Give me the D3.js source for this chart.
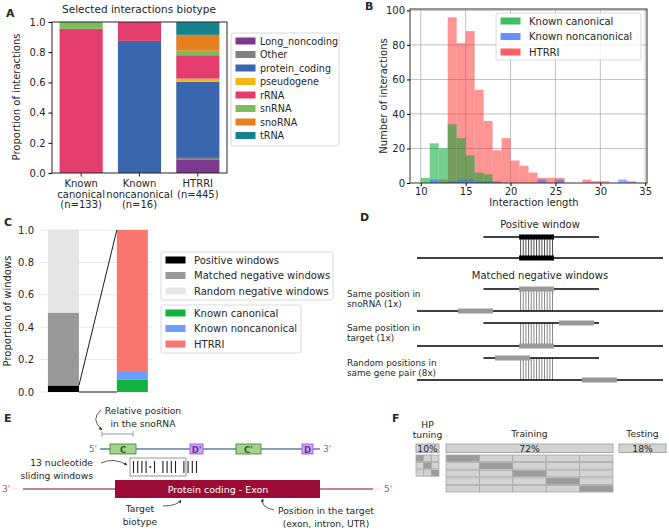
<!DOCTYPE html>
<html>
<head>
<meta charset="utf-8">
<script src="https://cdn.jsdelivr.net/npm/d3@7"></script>
<style>
  body { margin: 0; background: #fff; }
  text { font-family: "DejaVu Sans", sans-serif; fill: #262626; }
</style>
</head>
<body>
<svg id="fig" width="669" height="531"></svg>
<script>
/**************************
 * Data
 **************************/
// panel A - biotype proportions
const biotypes = ["Long_noncoding", "Other", "protein_coding", "pseudogene", "rRNA", "snRNA", "snoRNA", "tRNA"];
const biotypeColors = ["#7b3a8e", "#808080", "#3a66ad", "#f2b711", "#e33d6e", "#7fbd5c", "#e6801f", "#15818b"];
const groupsA = [["Known", "canonical", "(n=133)"], ["Known", "noncanonical", "(n=16)"], ["HTRRI", "(n=445)"]];
const propCanonical = [0, 0, 0, 0, 0.955, 0.045, 0, 0];
const propNoncanonical = [0, 0, 0.875, 0, 0.125, 0, 0, 0];
const propHTRRI = [0.09, 0.01, 0.505, 0.02, 0.155, 0.03, 0.105, 0.085];

// panel B - interaction length histogram (bin start = length)
const lengths = [10, 11, 12, 13, 14, 15, 16, 17, 18, 19, 20, 21, 22, 23, 24, 25, 26, 27, 28, 29, 30, 31, 32, 33];
const canonicalCounts = [3, 23, 20, 34, 26, 16, 6, 5, 0, 0, 0, 0, 0, 0, 0, 0, 0, 0, 0, 0, 0, 0, 0, 0];
const noncanonicalCounts = [0, 2, 0, 1, 2, 2, 1, 1, 1, 0, 0, 0, 0, 2, 0, 2, 0, 0, 0, 0, 0, 0, 2, 0];
const htrriCounts = [0, 0, 2, 96, 81, 88, 54, 36, 19, 26, 13, 10, 6, 3, 3, 3, 0, 0, 2, 1, 1, 0, 0, 1];
const sourceNames = ["Known canonical", "Known noncanonical", "HTRRI"];

// panel C - windows
const windowNames = ["Positive windows", "Matched negative windows", "Random negative windows"];
const windowProps = [0.04, 0.45, 0.51];
const sourceProps = [0.075, 0.055, 0.87];

// panel F - data split
const splitNames = ["HP\ntuning", "Training", "Testing"];
const splitPercents = [10, 72, 18];
const hpFolds = 3;
const cvFolds = 5;

const svg = d3.select("#fig");
const font = 10;
const small = 9.2;

function multiText(g, x, y, lines, size, anchor, lh) {
	const t = g.append("text").attr("x", x).attr("y", y).attr("font-size", size).attr("text-anchor", anchor || "start");
	lines.forEach(function(l, i) {
		t.append("tspan").attr("x", x).attr("dy", i === 0 ? 0 : (lh || size * 1.15)).text(l);
	});
	return t;
}

function panelLetter(x, y, s) {
	svg.append("text").attr("x", x).attr("y", y).attr("font-size", 11).attr("font-weight", "bold").attr("fill", "#000").text(s);
}

function legend(g, x, y, w, h, names, colors, step, opacity, textOff, size) {
	g.append("rect").attr("x", x).attr("y", y).attr("width", w).attr("height", h).attr("rx", 2)
		.attr("fill", "#fff").attr("fill-opacity", 0.8).attr("stroke", "#d0d0d0").attr("stroke-width", 0.8);
	names.forEach(function(n, i) {
		const cy = y + 8 + i * step;
		g.append("rect").attr("x", x + 4.5).attr("y", cy - 3.5).attr("width", 20).attr("height", 7).attr("fill", colors[i]).attr("fill-opacity", opacity || 1);
		g.append("text").attr("x", x + (textOff || 33)).attr("y", cy + 3.5).attr("font-size", size || font).text(n);
	});
}

/**************************
 * Panel A
 **************************/
const gA = svg.append("g");
const xA = d3.scaleLinear().domain([-0.5, 2.5]).range([52, 227]);
const yA = d3.scaleLinear().domain([0, 1]).range([173, 22]);
const rowsA = [propCanonical, propNoncanonical, propHTRRI].map(function(p, i) {
	const r = { idx: i };
	biotypes.forEach(function(b, j) { r[b] = p[j]; });
	return r;
});
const stackA = d3.stack().keys(biotypes)(rowsA);
stackA.forEach(function(layer, j) {
	gA.selectAll(null).data(layer).enter().append("rect")
		.attr("x", function(d) { return xA(d.data.idx - 0.37); })
		.attr("width", xA(0.37) - xA(-0.37))
		.attr("y", function(d) { return yA(d[1]); })
		.attr("height", function(d) { return yA(d[0]) - yA(d[1]); })
		.attr("fill", biotypeColors[j]);
});
gA.append("rect").attr("x", 52).attr("y", 22).attr("width", 175).attr("height", 151)
	.attr("fill", "none").attr("stroke", "#262626").attr("stroke-width", 1);
const axA = gA.append("g").attr("transform", "translate(52,0)")
	.call(d3.axisLeft(yA).tickValues([0, 0.2, 0.4, 0.6, 0.8, 1.0]).tickFormat(d3.format(".1f")).tickSize(3.5).tickPadding(3));
axA.select(".domain").remove();
axA.selectAll("text").attr("font-size", font).attr("font-family", "DejaVu Sans");
groupsA.forEach(function(lines, i) {
	gA.append("line").attr("x1", xA(i)).attr("x2", xA(i)).attr("y1", 173).attr("y2", 176.5).attr("stroke", "#262626");
	multiText(gA, xA(i), 187, lines, font, "middle", 10.5);
});
gA.append("text").attr("x", 139).attr("y", 13).attr("font-size", font + 0.5).attr("text-anchor", "middle").text("Selected interactions biotype");
gA.append("text").attr("transform", "translate(20,97) rotate(-90)").attr("font-size", font).attr("text-anchor", "middle").text("Proportion of interactions");
legend(gA, 231, 33, 108, 113, biotypes, biotypeColors, 13.5, 1, 29, 9.6);
panelLetter(6, 17, "A");

/**************************
 * Panel B
 **************************/
const gB = svg.append("g");
const xB = d3.scaleLinear().domain([8.8, 35.2]).range([410, 647]);
const yB = d3.scaleLinear().domain([0, 100.8]).range([183, 9]);
[20, 40, 60, 80, 100].forEach(function(v) {
	gB.append("line").attr("x1", 410).attr("x2", 647).attr("y1", yB(v)).attr("y2", yB(v)).attr("stroke", "#b0b0b0").attr("stroke-width", 0.8);
});
[10, 15, 20, 25, 30, 35].forEach(function(v) {
	gB.append("line").attr("x1", xB(v)).attr("x2", xB(v)).attr("y1", 9).attr("y2", 183).attr("stroke", "#b0b0b0").attr("stroke-width", 0.8);
});
const histColors = ["#00a832", "#2f6dff", "#ff2a2a"];
[[htrriCounts, 2, 0.5], [canonicalCounts, 0, 0.55], [noncanonicalCounts, 1, 0.55]].forEach(function(s) {
	gB.selectAll(null).data(lengths.map(function(l, i) { return { l: l, c: s[0][i] }; }).filter(function(d) { return d.c > 0; }))
		.enter().append("rect")
		.attr("x", function(d) { return xB(d.l); })
		.attr("width", xB(1) - xB(0))
		.attr("y", function(d) { return yB(d.c); })
		.attr("height", function(d) { return yB(0) - yB(d.c); })
		.attr("fill", histColors[s[1]]).attr("fill-opacity", s[2]);
});
gB.append("rect").attr("x", 410).attr("y", 9).attr("width", 237).attr("height", 174)
	.attr("fill", "none").attr("stroke", "#333").attr("stroke-width", 1);
const axBy = gB.append("g").attr("transform", "translate(410,0)")
	.call(d3.axisLeft(yB).tickValues([0, 20, 40, 60, 80, 100]).tickSize(3).tickPadding(2));
const axBx = gB.append("g").attr("transform", "translate(0,183)")
	.call(d3.axisBottom(xB).tickValues([10, 15, 20, 25, 30, 35]).tickSize(3).tickPadding(2));
[axBy, axBx].forEach(function(a) {
	a.select(".domain").remove();
	a.selectAll("text").attr("font-size", font).attr("font-family", "DejaVu Sans");
});
gB.append("text").attr("x", 534).attr("y", 206).attr("font-size", font).attr("text-anchor", "middle").text("Interaction length");
gB.append("text").attr("transform", "translate(387,96) rotate(-90)").attr("font-size", font).attr("text-anchor", "middle").text("Number of interactions");
legend(gB, 496, 13, 145, 47, sourceNames, histColors, 15.5, 0.75);
panelLetter(365, 10, "B");

/**************************
 * Panel C
 **************************/
const gC = svg.append("g");
const xC = d3.scaleLinear().domain([-0.34, 1.3]).range([40, 153]);
const yC = d3.scaleLinear().domain([0, 1]).range([392, 230]);
[0, 0.2, 0.4, 0.6, 0.8, 1.0].forEach(function(v) {
	gC.append("line").attr("x1", 40).attr("x2", 153).attr("y1", yC(v)).attr("y2", yC(v)).attr("stroke", "#e6e6e6").attr("stroke-width", 1);
	gC.append("text").attr("x", 34).attr("y", yC(v) + 3.5).attr("font-size", font).attr("text-anchor", "end").text(d3.format(".1f")(v));
});
const windowColors = ["#000000", "#999999", "#e5e5e5"];
const sourceColors = ["#12b241", "#6a9dff", "#f8766d"];
const halfC = 0.225;
[[windowProps, windowColors, 0], [sourceProps, sourceColors, 1]].forEach(function(s) {
	let acc = 0;
	s[0].forEach(function(p, i) {
		gC.append("rect").attr("x", xC(s[2] - halfC)).attr("width", xC(halfC) - xC(-halfC))
			.attr("y", yC(acc + p)).attr("height", yC(acc) - yC(acc + p)).attr("fill", s[1][i]);
		acc += p;
	});
});
gC.append("line").attr("x1", xC(halfC)).attr("y1", yC(windowProps[0])).attr("x2", xC(1 - halfC)).attr("y2", yC(1))
	.attr("stroke", "#000").attr("stroke-width", 0.9);
gC.append("line").attr("x1", xC(halfC)).attr("y1", yC(0)).attr("x2", xC(1 - halfC)).attr("y2", yC(0))
	.attr("stroke", "#000").attr("stroke-width", 0.9);
gC.append("text").attr("transform", "translate(11,311) rotate(-90)").attr("font-size", font).attr("text-anchor", "middle").text("Proportion of windows");
legend(gC, 161, 252, 172, 48, windowNames, windowColors, 15.5);
legend(gC, 161, 305, 140, 48, sourceNames, sourceColors, 15.5);
panelLetter(4, 226, "C");

/**************************
 * Panel D
 **************************/
const gD = svg.append("g");
const xD = d3.scaleLinear().domain([0, 100]).range([417, 663]);
const snoSpan = [27, 74], targetSpan = [0, 100], windowSpan = [41.5, 55.7];
const dRows = [
	{ top: 237, bottom: 258, sno: windowSpan, tgt: windowSpan, color: "#000", label: null },
	{ top: 289, bottom: 311, sno: windowSpan, tgt: [16.7, 30.9], color: "#999", label: ["Same position in", "snoRNA (1x)"] },
	{ top: 323, bottom: 346, sno: [57.7, 72], tgt: windowSpan, color: "#999", label: ["Same position in", "target (1x)"] },
	{ top: 358, bottom: 380, sno: [31.7, 46], tgt: [67, 81.3], color: "#999", label: ["Random positions in", "same gene pair (8x)"] }
];
dRows.forEach(function(r) {
	d3.range(13).forEach(function(k) {
		const x = xD(windowSpan[0]) + 1.5 + k * (xD(windowSpan[1]) - xD(windowSpan[0]) - 3) / 12;
		gD.append("line").attr("x1", x).attr("x2", x).attr("y1", r.top).attr("y2", r.bottom)
			.attr("stroke", r.color === "#000" ? "#000" : "#555").attr("stroke-width", 0.7);
	});
	gD.append("line").attr("x1", xD(snoSpan[0])).attr("x2", xD(snoSpan[1])).attr("y1", r.top).attr("y2", r.top).attr("stroke", "#000").attr("stroke-width", 1.3);
	gD.append("line").attr("x1", xD(targetSpan[0])).attr("x2", xD(targetSpan[1])).attr("y1", r.bottom).attr("y2", r.bottom).attr("stroke", "#000").attr("stroke-width", 1.3);
	[[r.sno, r.top], [r.tgt, r.bottom]].forEach(function(b) {
		gD.append("rect").attr("x", xD(b[0][0])).attr("width", xD(b[0][1]) - xD(b[0][0]))
			.attr("y", b[1] - 2.5).attr("height", 5).attr("fill", r.color);
	});
	if (r.label) multiText(gD, 347, r.top + 8, r.label, 8.8, "start", 10);
});
gD.append("text").attr("x", 540).attr("y", 228).attr("font-size", font).attr("text-anchor", "middle").text("Positive window");
gD.append("text").attr("x", 540).attr("y", 279).attr("font-size", font).attr("text-anchor", "middle").text("Matched negative windows");
panelLetter(360, 221, "D");

/**************************
 * Panel E
 **************************/
const gE = svg.append("g");
const defs = svg.append("defs");
defs.append("marker").attr("id", "arr").attr("viewBox", "0 0 10 10").attr("refX", 8).attr("refY", 5)
	.attr("markerWidth", 5).attr("markerHeight", 5).attr("orient", "auto")
	.append("path").attr("d", "M0,1 L9,5 L0,9 Z").attr("fill", "#333");
function curved(d) {
	gE.append("path").attr("d", d).attr("fill", "none").attr("stroke", "#333").attr("stroke-width", 0.8).attr("marker-end", "url(#arr)");
}
const snoColor = "#5b7fa3", tgtColor = "#b5567c";
multiText(gE, 143, 414, ["Relative position", "in the snoRNA"], small, "middle", 12.5);
curved("M101,410 Q90,419 102,430");
gE.append("line").attr("x1", 102).attr("x2", 133).attr("y1", 434).attr("y2", 434).attr("stroke", "#aaa").attr("stroke-width", 1.2);
[102, 133].forEach(function(x) {
	gE.append("line").attr("x1", x).attr("x2", x).attr("y1", 431).attr("y2", 437).attr("stroke", "#aaa").attr("stroke-width", 1.2);
});
gE.append("line").attr("x1", 100).attr("x2", 320).attr("y1", 449).attr("y2", 449).attr("stroke", snoColor).attr("stroke-width", 1.5);
gE.append("text").attr("x", 97).attr("y", 452).attr("font-size", small).attr("text-anchor", "end").style("fill", snoColor).text("5'");
gE.append("text").attr("x", 323).attr("y", 452).attr("font-size", small).style("fill", snoColor).text("3'");
const boxes = [
	{ x0: 110, x1: 136, name: "C", fill: "#a3d48f", stroke: "#3f7a2c", txt: "#2f5e20" },
	{ x0: 190, x1: 203, name: "D'", fill: "#cfa6f2", stroke: "#8750c2", txt: "#6a2fa6" },
	{ x0: 236, x1: 261, name: "C'", fill: "#a3d48f", stroke: "#3f7a2c", txt: "#2f5e20" },
	{ x0: 302, x1: 313, name: "D", fill: "#cfa6f2", stroke: "#8750c2", txt: "#6a2fa6" }
];
boxes.forEach(function(b) {
	gE.append("rect").attr("x", b.x0).attr("y", 444).attr("width", b.x1 - b.x0).attr("height", 10)
		.attr("fill", b.fill).attr("stroke", b.stroke).attr("stroke-width", 0.8);
	gE.append("text").attr("x", (b.x0 + b.x1) / 2).attr("y", 452.5).attr("font-size", 8.5).attr("font-weight", "bold")
		.attr("text-anchor", "middle").style("fill", b.txt).text(b.name);
});
gE.append("rect").attr("x", 130).attr("y", 458).attr("width", 56).attr("height", 18)
	.attr("fill", "none").attr("stroke", "#a8a8a8").attr("stroke-width", 1.2);
const pairing = "||||·| |||| ||||";
pairing.split("").forEach(function(c, i) {
	const x = 133.5 + i * 4.2;
	if (c === "|") gE.append("line").attr("x1", x).attr("x2", x).attr("y1", 461).attr("y2", 473).attr("stroke", "#222").attr("stroke-width", 1.1);
	else if (c === "·") gE.append("circle").attr("cx", x).attr("cy", 467).attr("r", 1).attr("fill", "#222");
});
multiText(gE, 93, 466, ["13 nucleotide", "sliding windows"], small, "end", 12.5);
curved("M101,463 Q114,457 127,465");
gE.append("line").attr("x1", 23).attr("x2", 373).attr("y1", 489).attr("y2", 489).attr("stroke", tgtColor).attr("stroke-width", 1.5);
gE.append("text").attr("x", 2).attr("y", 492).attr("font-size", small).style("fill", tgtColor).text("3'");
gE.append("text").attr("x", 12).attr("y", 491).attr("font-size", 6).style("fill", tgtColor).text("···");
gE.append("text").attr("x", 374).attr("y", 491).attr("font-size", 6).style("fill", tgtColor).text("···");
gE.append("text").attr("x", 384).attr("y", 492).attr("font-size", small).style("fill", tgtColor).text("5'");
gE.append("rect").attr("x", 115).attr("y", 480).attr("width", 205).attr("height", 18).attr("fill", "#9c0b36");
gE.append("text").attr("x", 218).attr("y", 492.5).attr("font-size", 9.5).attr("text-anchor", "middle").style("fill", "#fff").text("Protein coding - Exon");
multiText(gE, 140, 512, ["Target", "biotype"], small, "middle", 12.5);
curved("M163,506 Q177,506 181,500");
multiText(gE, 326, 514, ["Position in the target", "(exon, intron, UTR)"], small, "middle", 12.5);
curved("M274,510 Q260,507 263,499");
panelLetter(4, 422, "E");

/**************************
 * Panel F
 **************************/
const gF = svg.append("g");
const lightCell = "#d3d3d3", darkCell = "#9c9c9c", cellStroke = "#a8a8a8";
const splitX = [[416, 439], [446, 613], [619, 666]];
splitNames.forEach(function(n, i) {
	const cx = (splitX[i][0] + splitX[i][1]) / 2;
	const lines = n.split("\n");
	multiText(gF, cx, lines.length > 1 ? 428 : 437, lines, small, "middle", 10);
	gF.append("rect").attr("x", splitX[i][0]).attr("y", 444).attr("width", splitX[i][1] - splitX[i][0]).attr("height", 8.5)
		.attr("fill", lightCell).attr("stroke", cellStroke).attr("stroke-width", 1);
	gF.append("text").attr("x", cx).attr("y", 451.8).attr("font-size", small).attr("text-anchor", "middle").text(splitPercents[i] + "%");
});
function foldGrid(n, x0, x1, y0, rowH) {
	const bx = d3.scaleBand().domain(d3.range(n)).range([x0, x1]);
	d3.range(n).forEach(function(r) {
		d3.range(n).forEach(function(c) {
			gF.append("rect").attr("x", bx(c)).attr("y", y0 + r * rowH).attr("width", bx.bandwidth()).attr("height", rowH - 1)
				.attr("fill", r === c ? darkCell : lightCell).attr("stroke", cellStroke).attr("stroke-width", 0.8);
		});
	});
}
foldGrid(hpFolds, splitX[0][0], splitX[0][1], 455, 7.4);
foldGrid(cvFolds, splitX[1][0], splitX[1][1], 455, 7.6);
panelLetter(392, 422, "F");
</script>
</body>
</html>
